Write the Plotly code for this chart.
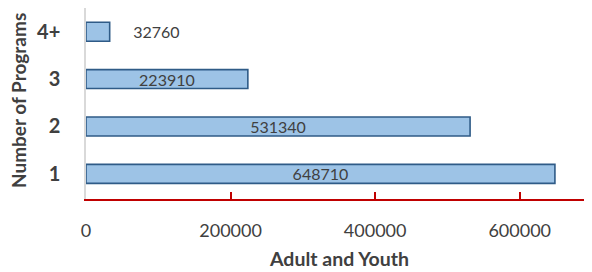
import plotly.graph_objects as go

categories = ["1", "2", "3", "4+"]
values = [648710, 531340, 223910, 32760]
x_ticks = [0, 200000, 400000, 600000]
x_tick_labels = ["0", "200000", "400000", "600000"]

# page body has an 8px default margin, so the figure is drawn 8px smaller
W, H = 584, 264
ml, mr, mt, mb = 78, 0, 0, 73
font_fam = "Lato, 'Open Sans', sans-serif"
txt = "#404040"

positions = ["outside" if v < 100000 else "inside" for v in values]
labels = [("\u00a0" * 5 + str(v)) if p == "outside" else str(v) for v, p in zip(values, positions)]

fig = go.Figure(go.Bar(
    y=categories, x=values, orientation="h",
    width=0.4,
    marker=dict(color="#9DC3E6", line=dict(color="#2F5B87", width=1.6)),
    text=labels,
    textposition=positions,
    insidetextanchor="middle",
    textangle=0,
    textfont=dict(family=font_fam, size=16, color=txt),
    outsidetextfont=dict(family=font_fam, size=16, color=txt),
    insidetextfont=dict(family=font_fam, size=16, color=txt),
    cliponaxis=False,
))

plot_h = H - mt - mb
plot_w = W - ml - mr

fig.update_layout(
    width=W, height=H,
    margin=dict(l=ml, r=mr, t=mt, b=mb, autoexpand=False),
    plot_bgcolor="white", paper_bgcolor="white",
    showlegend=False,
    uniformtext=dict(mode="show", minsize=16),
    font=dict(family=font_fam, color=txt),
    xaxis=dict(
        range=[0, 700000],
        tickvals=x_ticks, ticktext=x_tick_labels,
        showgrid=False, zeroline=False, automargin=False,
        showline=True, linecolor="#C00000", linewidth=1.5,
        ticks="inside", ticklen=7, tickcolor="#C00000", tickwidth=1.5,
        tickfont=dict(size=18, color=txt),
        ticklabelstandoff=15,
    ),
    yaxis=dict(
        range=[-0.53, 3.5],
        showgrid=False, zeroline=False, automargin=False,
        showline=True, linecolor="#D9D9D9", linewidth=1.5,
        ticks="",
        tickfont=dict(size=20, color=txt, weight="bold"),
        ticklabelstandoff=20,
    ),
    annotations=[
        dict(text="<b>Adult and Youth</b>", x=0.5, y=-59 / plot_h,
             xref="paper", yref="paper", showarrow=False,
             xanchor="center", yanchor="middle",
             font=dict(size=19.5, color=txt, family=font_fam)),
        dict(text="<b>Number of Programs</b>", x=-68 / plot_w, y=98 / plot_h,
             xref="paper", yref="paper", showarrow=False, textangle=-90,
             xanchor="center", yanchor="middle",
             font=dict(size=19, color=txt, family=font_fam)),
    ],
)

fig.write_html("out.html")
